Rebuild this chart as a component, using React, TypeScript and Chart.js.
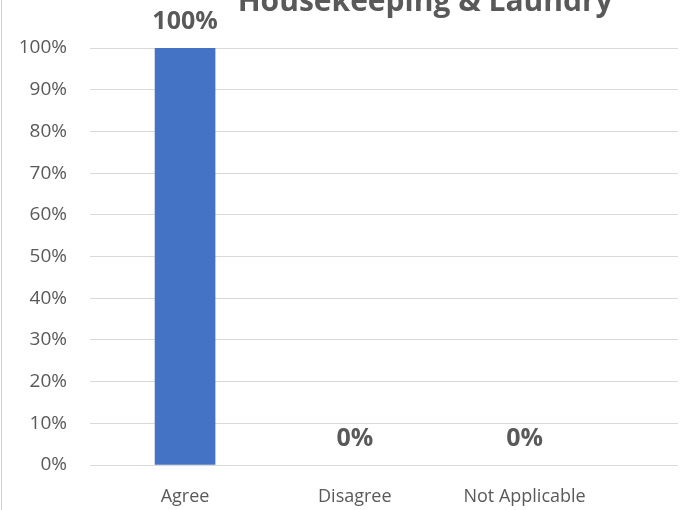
import React, { useEffect, useRef } from "react";
import { Chart, registerables } from "chart.js";

Chart.register(...registerables);

const TITLE = "Housekeeping & Laundry";
const categories: string[] = ["Agree", "Disagree", "Not Applicable"];
const values: number[] = [100, 0, 0];
const yTicks: number[] = [0, 10, 20, 30, 40, 50, 60, 70, 80, 90, 100];

const FONT = "'Open Sans', 'Noto Sans', sans-serif";
const TEXT = "#595959";
const GRID = "#d9d9d9";
const BAR = "#4472C4";

const W = 686;
const H = 510;

const titlePlugin = {
  id: "offsetTitle",
  afterDraw(chart: any) {
    const { ctx, chartArea } = chart;
    ctx.save();
    ctx.font = `bold 30px ${FONT}`;
    ctx.fillStyle = TEXT;
    ctx.textAlign = "center";
    ctx.textBaseline = "alphabetic";
    const cx = chartArea.left + (chartArea.right - chartArea.left) * 0.57;
    ctx.fillText(TITLE, cx, chartArea.top - 37);
    ctx.restore();
  },
};

const dataLabels = {
  id: "dataLabels",
  afterDatasetsDraw(chart: any) {
    const ctx = chart.ctx;
    const meta = chart.getDatasetMeta(0);
    ctx.save();
    ctx.font = `bold 25px ${FONT}`;
    ctx.fillStyle = TEXT;
    ctx.textAlign = "center";
    ctx.textBaseline = "alphabetic";
    meta.data.forEach((bar: any, i: number) => {
      ctx.fillText(`${values[i]}%`, bar.x, bar.y - 19);
    });
    ctx.restore();
  },
};

export default function App() {
  const ref = useRef<HTMLCanvasElement | null>(null);

  useEffect(() => {
    document.body.style.margin = "0";
    if (!ref.current) return;
    const chart = new Chart(ref.current, {
      type: "bar",
      data: {
        datasets: [
          {
            data: categories.map((_, i) => ({ x: i, y: values[i] })),
            backgroundColor: (c: any) =>
              c.raw && c.raw.y === 0 ? "rgba(0,0,0,0)" : BAR,
            borderWidth: 0,
            barThickness: 60,
          },
        ],
      },
      options: {
        responsive: false,
        animation: false,
        layout: { padding: { left: 0, right: W - 678, top: 48, bottom: 0 } },
        plugins: {
          legend: { display: false },
          tooltip: { enabled: false },
          title: { display: false },
        },
        scales: {
          x: {
            type: "linear",
            offset: false,
            min: -0.56,
            max: 2.904,
            grid: { display: false, offset: false },
            border: { display: false },
            afterBuildTicks: (scale: any) => {
              scale.ticks = categories.map((_, i) => ({ value: i }));
            },
            afterFit: (scale: any) => {
              scale.height = 45;
            },
            ticks: {
              color: TEXT,
              font: { family: FONT, size: 18 },
              padding: 13,
              autoSkip: false,
              maxRotation: 0,
              callback: (v: any) => categories[v as number] ?? "",
            },
          },
          y: {
            min: 0,
            max: 100,
            afterBuildTicks: (scale: any) => {
              scale.ticks = yTicks.map((v) => ({ value: v }));
            },
            afterFit: (scale: any) => {
              scale.width = 90;
            },
            grid: { color: GRID, lineWidth: 1, drawTicks: false },
            border: { display: false },
            ticks: {
              color: TEXT,
              font: { family: FONT, size: 19 },
              padding: 23,
              callback: (v: any) => `${v}%`,
            },
          },
        },
      },
      plugins: [dataLabels, titlePlugin],
    });
    return () => chart.destroy();
  }, []);

  return (
    <div
      style={{
        position: "relative",
        width: W,
        height: H,
        overflow: "hidden",
        background: "#ffffff",
      }}
    >
      <canvas
        ref={ref}
        width={W}
        height={H}
        style={{ position: "absolute", left: 0, top: 0, width: W, height: H }}
      />
      <div
        style={{
          position: "absolute",
          left: 1,
          top: 0,
          width: 1,
          height: H,
          background: "#d0d0d0",
        }}
      />
    </div>
  );
}
